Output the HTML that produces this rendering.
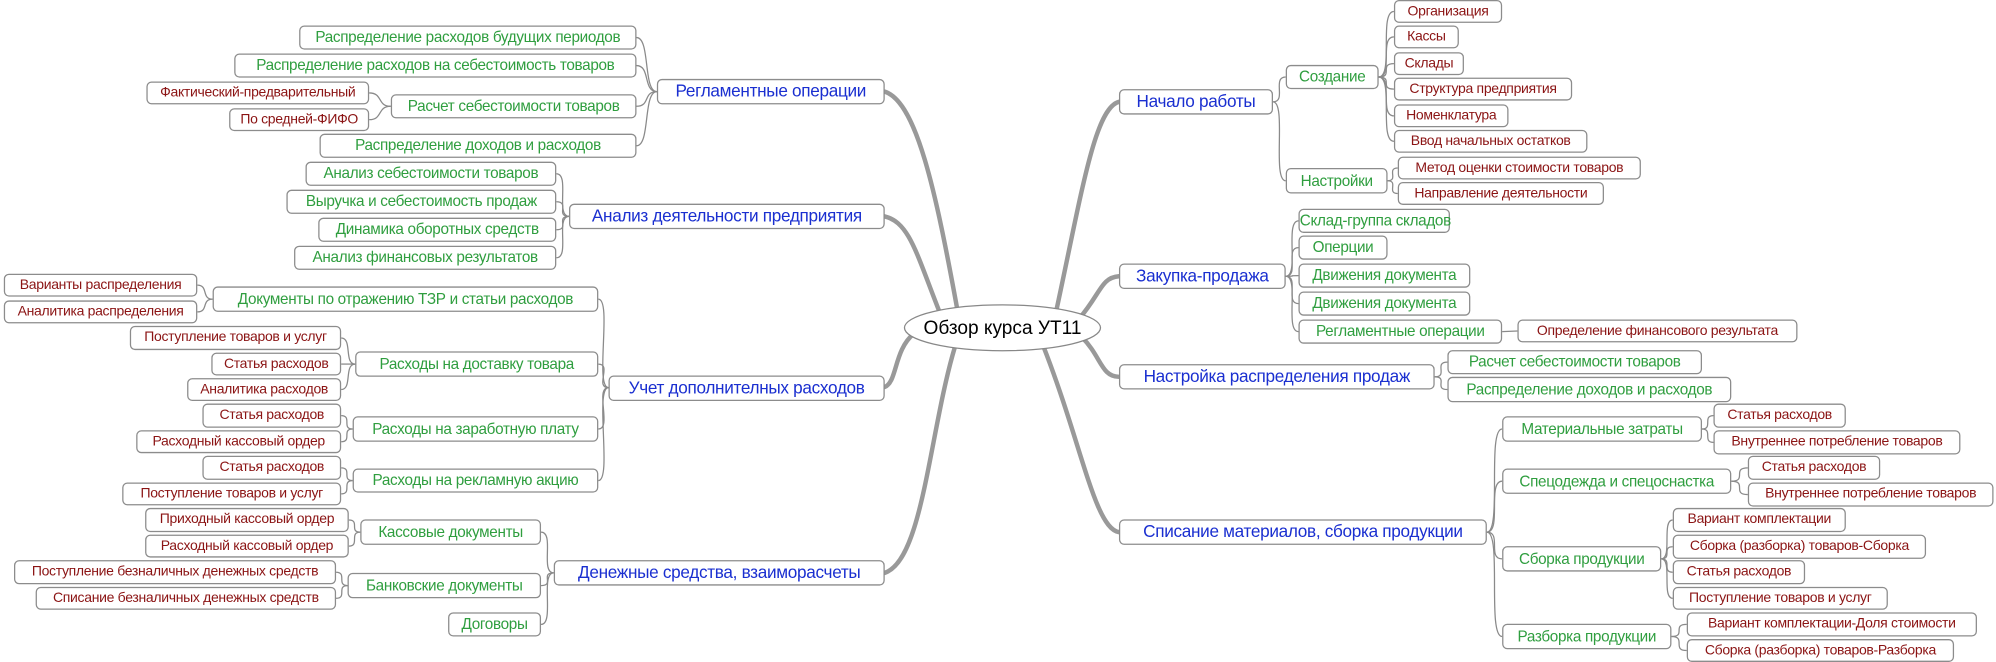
<!DOCTYPE html>
<html><head><meta charset="utf-8">
<style>
html,body{margin:0;padding:0;background:#fff;}
#wrap{position:relative;width:1996px;height:662px;overflow:hidden;}
#s{position:absolute;left:0;top:0;width:1568px;height:520px;transform:scale(1.273);transform-origin:0 0;}
.b{position:absolute;box-sizing:border-box;border:1px solid #8c8c8c;border-radius:4px;background:#fff;font-family:"Liberation Sans",sans-serif;font-size:12px;letter-spacing:-0.25px;white-space:nowrap;text-align:center;overflow:visible;}
.g{color:#2f9e3f;}
.r{color:#8b1414;font-size:11px;}
.u{color:#1a2fd0;font-size:13.5px;}
svg{position:absolute;left:0;top:0;}
</style></head><body><div id="wrap"><div id="s">
<svg width="1568" height="520" viewBox="0 0 1568 520" fill="none">
<g stroke="#999" stroke-width="3.5" stroke-linecap="round">
<path d="M752,243 C735,150 720,80 695,72"/>
<path d="M740,250 C720,200 715,175 695,170"/>
<path d="M718,262 C702,275 705,300 695,304"/>
<path d="M750,273 C730,340 725,440 695,450"/>
<path d="M830,243 C850,150 860,85 879,80"/>
<path d="M848,250 C865,230 865,218 879,217"/>
<path d="M850,265 C865,280 865,296 879,296"/>
<path d="M820,273 C850,350 860,415 879,418"/>
</g>
<g stroke="#8a8a8a" stroke-width="1">
<path d="M516,72 C505,72 511,29.5 500,29.5"/><path d="M516,72 C505,72 511,51.5 500,51.5"/><path d="M516,72 C505,72 511,83.5 500,83.5"/><path d="M516,72 C505,72 511,114.5 500,114.5"/>
<path d="M307,83.5 C296,83.5 301,73 290,73"/><path d="M307,83.5 C296,83.5 301,94 290,94"/>
<path d="M447,170 C436,170 448,136.5 437,136.5"/><path d="M447,170 C436,170 448,158.5 437,158.5"/><path d="M447,170 C436,170 448,180.5 437,180.5"/><path d="M447,170 C436,170 448,202.5 437,202.5"/>
<path d="M478,304.5 C467,304.5 481,235 470,235"/><path d="M478,304.5 C467,304.5 481,286 470,286"/><path d="M478,304.5 C467,304.5 481,337 470,337"/><path d="M478,304.5 C467,304.5 481,377.5 470,377.5"/>
<path d="M167,235 C158,235 164,224 155,224"/><path d="M167,235 C158,235 164,245 155,245"/>
<path d="M279,286 C270,286 277,265.5 268,265.5"/><path d="M279,286 C270,286 277,286 268,286"/><path d="M279,286 C270,286 277,306 268,306"/>
<path d="M277,337 C268,337 277,326.5 268,326.5"/><path d="M277,337 C268,337 277,347 268,347"/>
<path d="M277,377.5 C268,377.5 277,367.5 268,367.5"/><path d="M277,377.5 C268,377.5 277,388 268,388"/>
<path d="M435,450 C424,450 436,418 425,418"/><path d="M435,450 C424,450 436,460 425,460"/><path d="M435,450 C424,450 436,490.5 425,490.5"/>
<path d="M283,418 C274,418 283,408.5 274,408.5"/><path d="M283,418 C274,418 283,429 274,429"/>
<path d="M273,460 C264,460 273,449.5 264,449.5"/><path d="M273,460 C264,460 273,470 264,470"/>
<path d="M1000,80 C1011,80 999,60.5 1010,60.5"/><path d="M1000,80 C1011,80 999,142 1010,142"/>
<path d="M1083,60.5 C1095,60.5 1083,9 1095,9"/><path d="M1083,60.5 C1095,60.5 1083,29 1095,29"/><path d="M1083,60.5 C1095,60.5 1083,50 1095,50"/><path d="M1083,60.5 C1095,60.5 1083,70 1095,70"/><path d="M1083,60.5 C1095,60.5 1083,91 1095,91"/><path d="M1083,60.5 C1095,60.5 1083,111 1095,111"/>
<path d="M1090,142 C1099,142 1089,132 1098,132"/><path d="M1090,142 C1099,142 1089,152 1098,152"/>
<path d="M1010,217 C1021,217 1009,173.5 1020,173.5"/><path d="M1010,217 C1021,217 1009,194.5 1020,194.5"/><path d="M1010,217 C1021,217 1009,216.5 1020,216.5"/><path d="M1010,217 C1021,217 1009,238.5 1020,238.5"/><path d="M1010,217 C1021,217 1009,260.5 1020,260.5"/>
<path d="M1180,260.5 L1192,260"/>
<path d="M1127,296 C1138,296 1126,284.5 1137,284.5"/><path d="M1127,296 C1138,296 1126,306 1137,306"/>
<path d="M1168,418 C1180,418 1168,337 1180,337"/><path d="M1168,418 C1180,418 1168,378 1180,378"/><path d="M1168,418 C1180,418 1168,439 1180,439"/><path d="M1168,418 C1180,418 1168,500 1180,500"/>
<path d="M1337,337 C1346,337 1337,326.5 1346,326.5"/><path d="M1337,337 C1346,337 1337,347.5 1346,347.5"/>
<path d="M1360,378 C1373,378 1360,367.5 1373,367.5"/><path d="M1360,378 C1373,378 1360,388.5 1373,388.5"/>
<path d="M1305,439 C1314,439 1305,408.5 1314,408.5"/><path d="M1305,439 C1314,439 1305,429.5 1314,429.5"/><path d="M1305,439 C1314,439 1305,449.5 1314,449.5"/><path d="M1305,439 C1314,439 1305,470 1314,470"/>
<path d="M1313,500 C1325,500 1313,490.5 1325,490.5"/><path d="M1313,500 C1325,500 1313,511 1325,511"/>
</g>
<ellipse cx="787.5" cy="257.5" rx="77" ry="18" fill="#fff" stroke="#888" stroke-width="1"/>
<text x="787.5" y="262.5" text-anchor="middle" font-family="Liberation Sans, sans-serif" font-size="15" fill="#000">Обзор курса УТ11</text>
</svg>

<div class="b u" style="left:516px;top:62px;width:179px;height:20px;line-height:18px">Регламентные операции</div>
<div class="b g" style="left:235px;top:20px;width:265px;height:19px;line-height:17px">Распределение расходов будущих периодов</div>
<div class="b g" style="left:184px;top:42px;width:316px;height:19px;line-height:17px">Распределение расходов на себестоимость товаров</div>
<div class="b g" style="left:307px;top:74px;width:193px;height:19px;line-height:17px">Расчет себестоимости товаров</div>
<div class="b r" style="left:115px;top:64px;width:175px;height:18px;line-height:16px">Фактический-предварительный</div>
<div class="b r" style="left:180px;top:85px;width:110px;height:18px;line-height:16px">По средней-ФИФО</div>
<div class="b g" style="left:251px;top:105px;width:249px;height:19px;line-height:17px">Распределение доходов и расходов</div>

<div class="b u" style="left:447px;top:160px;width:248px;height:20px;line-height:18px">Анализ деятельности предприятия</div>
<div class="b g" style="left:240px;top:127px;width:197px;height:19px;line-height:17px">Анализ себестоимости товаров</div>
<div class="b g" style="left:225px;top:149px;width:212px;height:19px;line-height:17px">Выручка и себестоимость продаж</div>
<div class="b g" style="left:250px;top:171px;width:187px;height:19px;line-height:17px">Динамика оборотных средств</div>
<div class="b g" style="left:231px;top:193px;width:206px;height:19px;line-height:17px">Анализ финансовых результатов</div>

<div class="b u" style="left:478px;top:295px;width:217px;height:20px;line-height:18px">Учет дополнителных расходов</div>
<div class="b g" style="left:167px;top:225px;width:303px;height:20px;line-height:18px">Документы по отражению ТЗР и статьи расходов</div>
<div class="b r" style="left:3px;top:215px;width:152px;height:18px;line-height:16px">Варианты распределения</div>
<div class="b r" style="left:3px;top:236px;width:152px;height:18px;line-height:16px">Аналитика распределения</div>
<div class="b g" style="left:279px;top:276px;width:191px;height:20px;line-height:18px">Расходы на доставку товара</div>
<div class="b r" style="left:102px;top:256px;width:166px;height:19px;line-height:17px">Поступление товаров и услуг</div>
<div class="b r" style="left:166px;top:277px;width:102px;height:18px;line-height:16px">Статья расходов</div>
<div class="b r" style="left:147px;top:297px;width:121px;height:18px;line-height:16px">Аналитика расходов</div>
<div class="b g" style="left:277px;top:327px;width:193px;height:20px;line-height:18px">Расходы на заработную плату</div>
<div class="b r" style="left:159px;top:317px;width:109px;height:19px;line-height:17px">Статья расходов</div>
<div class="b r" style="left:107px;top:338px;width:161px;height:18px;line-height:16px">Расходный кассовый ордер</div>
<div class="b g" style="left:277px;top:368px;width:193px;height:19px;line-height:17px">Расходы на рекламную акцию</div>
<div class="b r" style="left:159px;top:358px;width:109px;height:19px;line-height:17px">Статья расходов</div>
<div class="b r" style="left:96px;top:379px;width:172px;height:18px;line-height:16px">Поступление товаров и услуг</div>

<div class="b u" style="left:435px;top:440px;width:260px;height:20px;line-height:18px">Денежные средства, взаиморасчеты</div>
<div class="b g" style="left:283px;top:408px;width:142px;height:20px;line-height:18px">Кассовые документы</div>
<div class="b r" style="left:114px;top:399px;width:160px;height:19px;line-height:17px">Приходный кассовый ордер</div>
<div class="b r" style="left:114px;top:420px;width:160px;height:18px;line-height:16px">Расходный кассовый ордер</div>
<div class="b g" style="left:273px;top:450px;width:152px;height:20px;line-height:18px">Банковские документы</div>
<div class="b r" style="left:11px;top:440px;width:253px;height:19px;line-height:17px">Поступление безналичных денежных средств</div>
<div class="b r" style="left:28px;top:461px;width:236px;height:18px;line-height:16px">Списание безналичных денежных средств</div>
<div class="b g" style="left:352px;top:481px;width:73px;height:19px;line-height:17px">Договоры</div>

<div class="b u" style="left:879px;top:70px;width:121px;height:20px;line-height:18px">Начало работы</div>
<div class="b g" style="left:1010px;top:51px;width:73px;height:19px;line-height:17px">Создание</div>
<div class="b r" style="left:1095px;top:0px;width:85px;height:18px;line-height:16px">Организация</div>
<div class="b r" style="left:1095px;top:20px;width:51px;height:18px;line-height:16px">Кассы</div>
<div class="b r" style="left:1095px;top:41px;width:55px;height:18px;line-height:16px">Склады</div>
<div class="b r" style="left:1095px;top:61px;width:140px;height:18px;line-height:16px">Структура предприятия</div>
<div class="b r" style="left:1095px;top:82px;width:90px;height:18px;line-height:16px">Номенклатура</div>
<div class="b r" style="left:1095px;top:102px;width:152px;height:18px;line-height:16px">Ввод начальных остатков</div>
<div class="b g" style="left:1010px;top:132px;width:80px;height:20px;line-height:18px">Настройки</div>
<div class="b r" style="left:1098px;top:123px;width:191px;height:18px;line-height:16px">Метод оценки стоимости товаров</div>
<div class="b r" style="left:1098px;top:143px;width:162px;height:18px;line-height:16px">Направление деятельности</div>

<div class="b u" style="left:879px;top:207px;width:131px;height:20px;line-height:18px">Закупка-продажа</div>
<div class="b g" style="left:1020px;top:164px;width:119px;height:19px;line-height:17px">Склад-группа складов</div>
<div class="b g" style="left:1020px;top:185px;width:70px;height:19px;line-height:17px">Оперции</div>
<div class="b g" style="left:1020px;top:207px;width:135px;height:19px;line-height:17px">Движения документа</div>
<div class="b g" style="left:1020px;top:229px;width:135px;height:19px;line-height:17px">Движения документа</div>
<div class="b g" style="left:1020px;top:251px;width:160px;height:19px;line-height:17px">Регламентные операции</div>
<div class="b r" style="left:1192px;top:251px;width:220px;height:18px;line-height:16px">Определение финансового результата</div>

<div class="b u" style="left:879px;top:286px;width:248px;height:20px;line-height:18px">Настройка распределения продаж</div>
<div class="b g" style="left:1137px;top:275px;width:200px;height:19px;line-height:17px">Расчет себестоимости товаров</div>
<div class="b g" style="left:1137px;top:296px;width:223px;height:20px;line-height:18px">Распределение доходов и расходов</div>

<div class="b u" style="left:879px;top:408px;width:289px;height:20px;line-height:18px">Списание материалов, сборка продукции</div>
<div class="b g" style="left:1180px;top:327px;width:157px;height:20px;line-height:18px">Материальные затраты</div>
<div class="b r" style="left:1346px;top:317px;width:104px;height:19px;line-height:17px">Статья расходов</div>
<div class="b r" style="left:1346px;top:338px;width:194px;height:19px;line-height:17px">Внутреннее потребление товаров</div>
<div class="b g" style="left:1180px;top:368px;width:180px;height:20px;line-height:18px">Спецодежда и спецоснастка</div>
<div class="b r" style="left:1373px;top:358px;width:104px;height:19px;line-height:17px">Статья расходов</div>
<div class="b r" style="left:1373px;top:379px;width:193px;height:19px;line-height:17px">Внутреннее потребление товаров</div>
<div class="b g" style="left:1180px;top:429px;width:125px;height:20px;line-height:18px">Сборка продукции</div>
<div class="b r" style="left:1314px;top:399px;width:136px;height:19px;line-height:17px">Вариант комплектации</div>
<div class="b r" style="left:1314px;top:420px;width:199px;height:19px;line-height:17px">Сборка (разборка) товаров-Сборка</div>
<div class="b r" style="left:1314px;top:440px;width:104px;height:19px;line-height:17px">Статья расходов</div>
<div class="b r" style="left:1314px;top:461px;width:169px;height:18px;line-height:16px">Поступление товаров и услуг</div>
<div class="b g" style="left:1180px;top:490px;width:133px;height:20px;line-height:18px">Разборка продукции</div>
<div class="b r" style="left:1325px;top:481px;width:228px;height:19px;line-height:17px">Вариант комплектации-Доля стоимости</div>
<div class="b r" style="left:1325px;top:502px;width:210px;height:18px;line-height:16px">Сборка (разборка) товаров-Разборка</div>
</div></div></body></html>
